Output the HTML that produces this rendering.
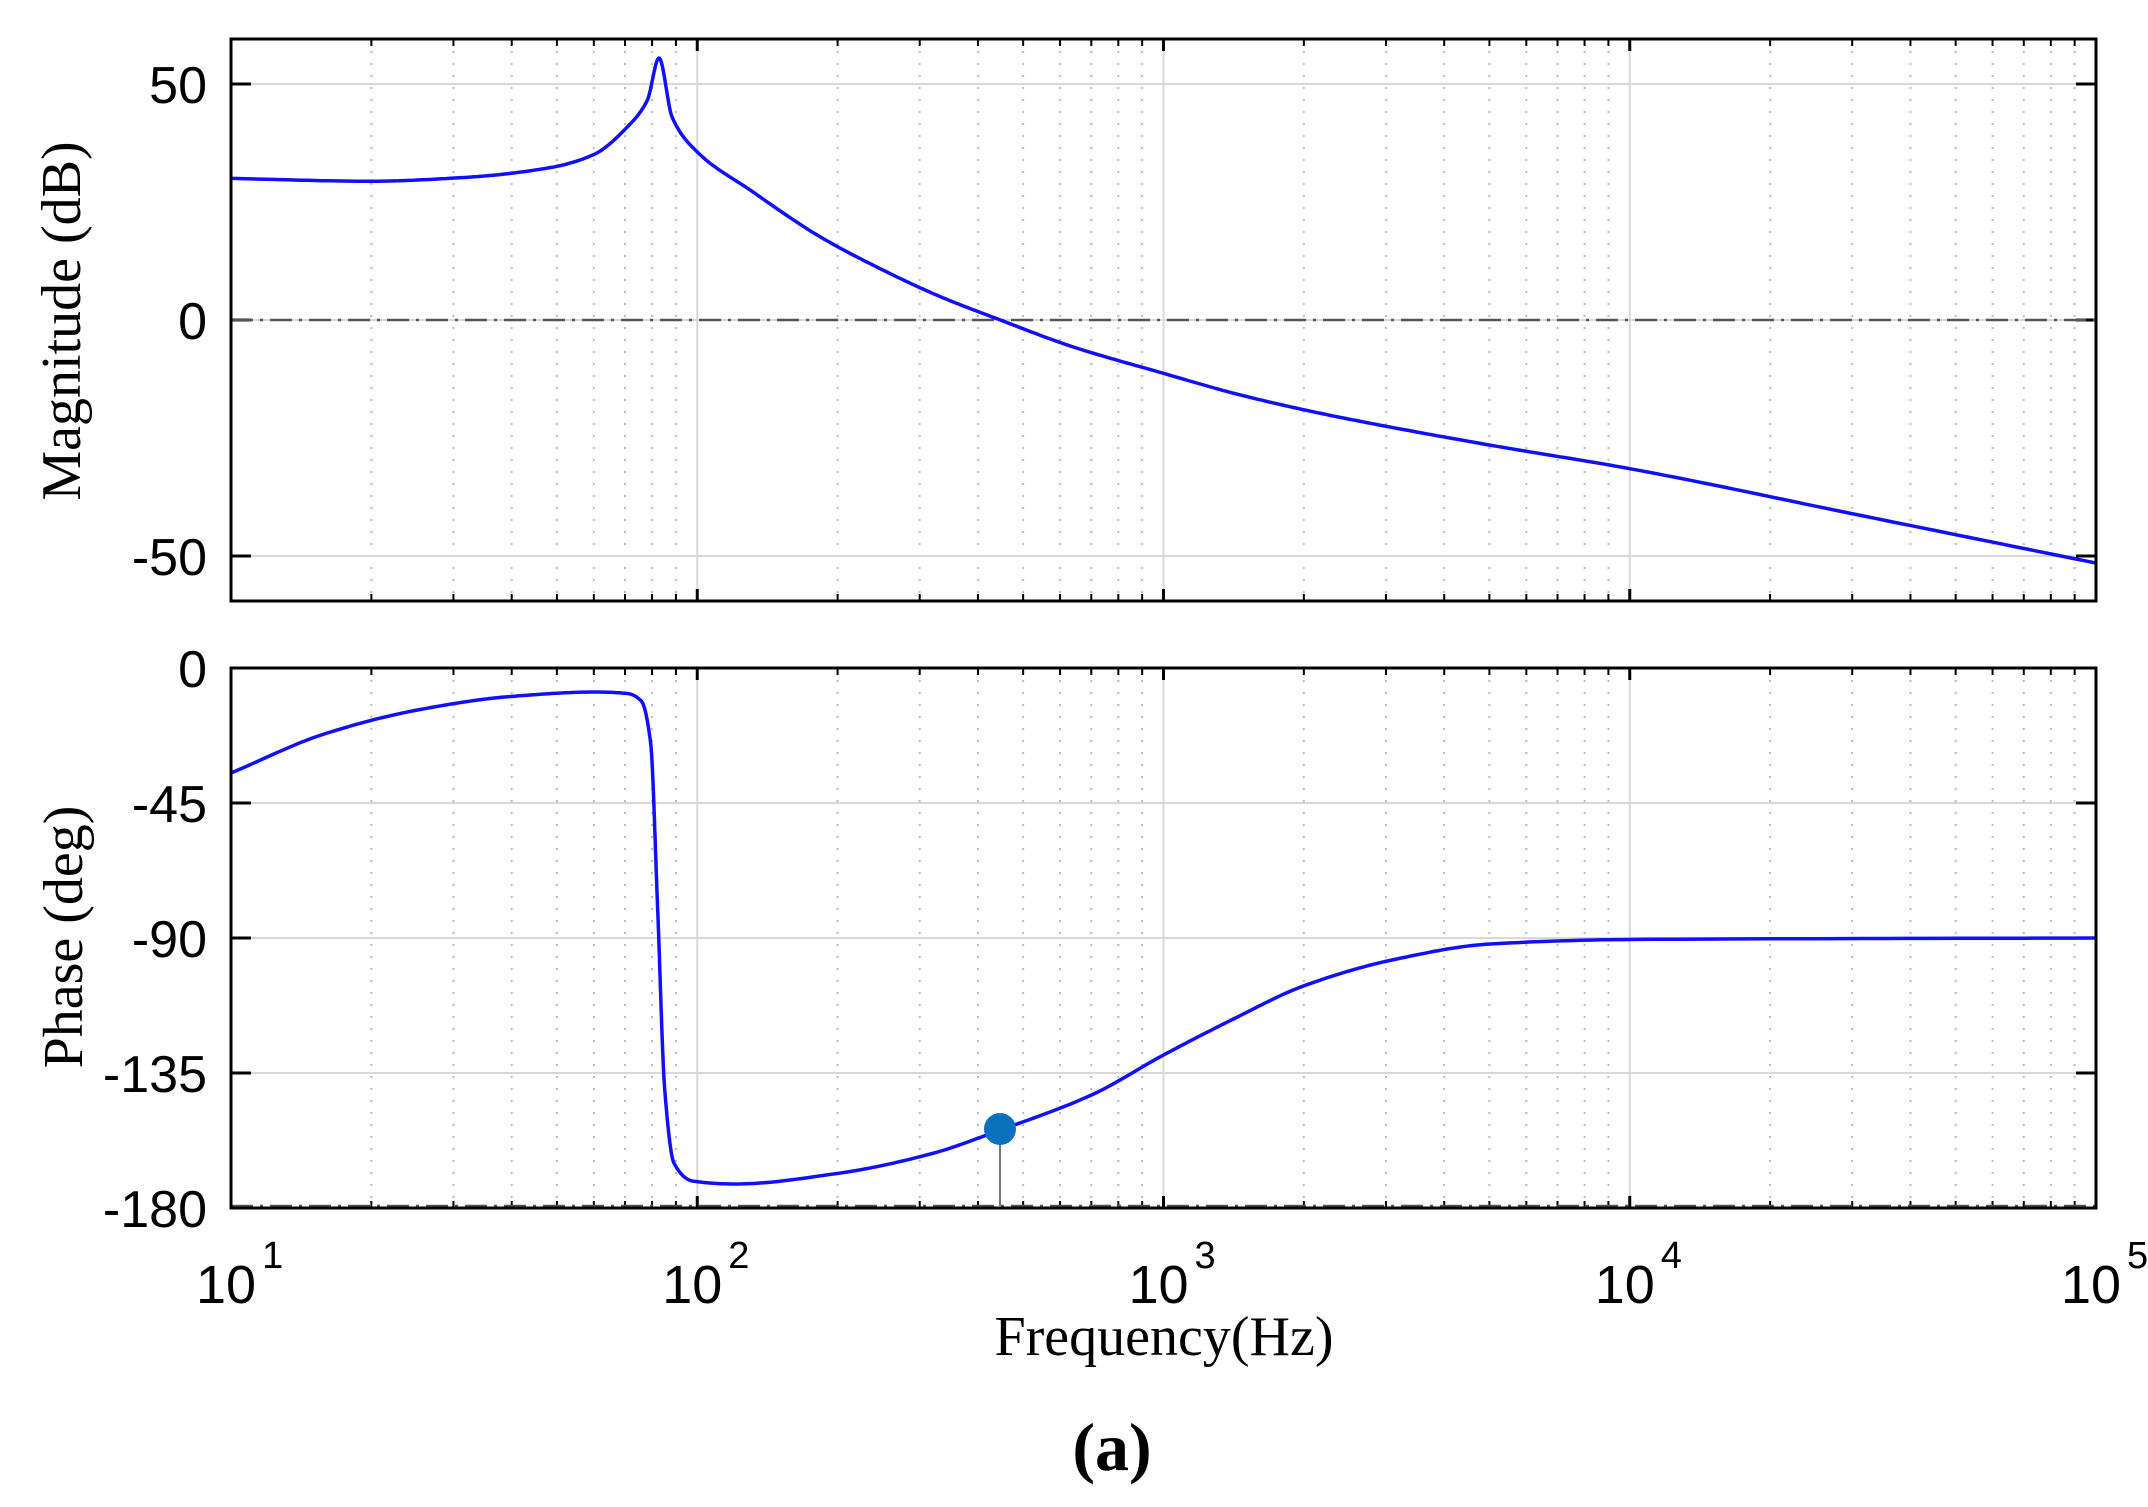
<!DOCTYPE html>
<html><head><meta charset="utf-8"><style>
html,body{margin:0;padding:0;background:#fff;}
svg{display:block;}
</style></head><body>
<svg id="s" width="2148" height="1507" xmlns="http://www.w3.org/2000/svg">
</svg>
<script>
const NS="http://www.w3.org/2000/svg";
const s=document.getElementById('s');
function el(t,a,txt){const e=document.createElementNS(NS,t);for(const k in a)e.setAttribute(k,a[k]);if(txt!==undefined)e.textContent=txt;s.appendChild(e);return e;}
const L=231,R=2096,D=(R-L)/4;
const X=lf=>L+(lf-1)*D;
const P1={t:39,b:601,y:v=>320-v*236/50};
const P2={t:668,b:1208,y:v=>668-v*3};
function grid(P,yt){
  for(let d=1;d<5;d++)for(let m=2;m<=9;m++){const x=X(d+Math.log10(m));
    el('line',{x1:x,y1:P.t,x2:x,y2:P.b,stroke:'#bbb','stroke-width':2,'stroke-dasharray':'2 10'});
    el('line',{x1:x,y1:P.t,x2:x,y2:P.t+7,stroke:'#000','stroke-width':2});
    el('line',{x1:x,y1:P.b,x2:x,y2:P.b-7,stroke:'#000','stroke-width':2});}
  for(let d=2;d<5;d++){const x=X(d);el('line',{x1:x,y1:P.t,x2:x,y2:P.b,stroke:'#d8d8d8','stroke-width':2});
    el('line',{x1:x,y1:P.t,x2:x,y2:P.t+12,stroke:'#000','stroke-width':3});
    el('line',{x1:x,y1:P.b,x2:x,y2:P.b-12,stroke:'#000','stroke-width':3});}
  for(const v of yt){const y=P.y(v);
    el('line',{x1:L,y1:y,x2:R,y2:y,stroke:'#d8d8d8','stroke-width':2});
    el('line',{x1:L,y1:y,x2:L+20,y2:y,stroke:'#000','stroke-width':3});
    el('line',{x1:R,y1:y,x2:R-20,y2:y,stroke:'#000','stroke-width':3});
    el('text',{x:207,y:y+19,'text-anchor':'end','font-family':'Liberation Sans, sans-serif','font-size':52},v);}
}
grid(P1,[50,0,-50]);
grid(P2,[0,-45,-90,-135,-180]);
el('line',{x1:L,y1:320,x2:R,y2:320,stroke:'#555','stroke-width':2.5,'stroke-dasharray':'22 7 3 7'});
el('line',{x1:L,y1:1206,x2:R,y2:1206,stroke:'#555','stroke-width':2.5,'stroke-dasharray':'22 7 3 7'});
function curve(pts,P){
  const n=pts.length,xs=pts.map(p=>p[0]),ys=pts.map(p=>p[1]);
  const dl=[],m=[];
  for(let i=0;i<n-1;i++)dl.push((ys[i+1]-ys[i])/(xs[i+1]-xs[i]));
  m[0]=dl[0];m[n-1]=dl[n-2];
  for(let i=1;i<n-1;i++){ if(dl[i-1]*dl[i]<=0)m[i]=0; else {const w1=2*(xs[i+1]-xs[i])+(xs[i]-xs[i-1]),w2=(xs[i+1]-xs[i])+2*(xs[i]-xs[i-1]);m[i]=(w1+w2)/(w1/dl[i-1]+w2/dl[i]);}}
  let d='';
  for(let i=0;i<n-1;i++){const h=xs[i+1]-xs[i];
    for(let k=0;k<20;k++){const t=k/20;
      const h00=2*t*t*t-3*t*t+1,h10=t*t*t-2*t*t+t,h01=-2*t*t*t+3*t*t,h11=t*t*t-t*t;
      const v=h00*ys[i]+h10*h*m[i]+h01*ys[i+1]+h11*h*m[i+1];
      d+=(d?'L':'M')+X(xs[i]+t*h).toFixed(1)+' '+P.y(v).toFixed(1);}}
  d+='L'+X(xs[n-1])+' '+P.y(ys[n-1]);
  el('path',{d:d,fill:'none',stroke:'#1010ff','stroke-width':3.5,'stroke-linejoin':'round'});
}
curve([[1,30],[1.3,29.4],[1.5,30.2],[1.685,32.3],[1.777,35],[1.85,40.9],[1.893,46.6],[1.918,55.5],[1.946,43],[2,35.6],[2.114,27.5],[2.264,17.6],[2.4,10.5],[2.52,5],[2.65,0],[2.8,-5.5],[3,-11.3],[3.15,-15.5],[3.3,-19],[3.45,-22],[3.7,-26.5],[4,-31.5],[4.5,-41.5],[5,-51.5]],P1);
curve([[1,-35],[1.2,-22],[1.4,-14],[1.6,-9.5],[1.78,-8],[1.85,-8.5],[1.88,-11],[1.9,-25],[1.915,-80],[1.93,-140],[1.95,-165],[1.99,-171],[2.08,-172],[2.3,-168.5],[2.5,-162],[2.65,-154],[2.85,-142],[3,-129],[3.15,-117],[3.3,-106],[3.5,-97],[3.7,-92],[4,-90.5],[5,-90]],P2);
el('line',{x1:1000,y1:1129,x2:1000,y2:1206,stroke:'#777','stroke-width':2});
el('circle',{cx:1000,cy:1129,r:16,fill:'#0a72bd'});
el('rect',{x:L,y:P1.t,width:R-L,height:P1.b-P1.t,fill:'none',stroke:'#000','stroke-width':3});
el('rect',{x:L,y:P2.t,width:R-L,height:P2.b-P2.t,fill:'none',stroke:'#000','stroke-width':3});
for(let d=1;d<=5;d++){el('text',{x:X(d)-5,y:1303,'text-anchor':'middle','font-family':'Liberation Sans, sans-serif','font-size':54},'10');
  el('text',{x:X(d)+31,y:1268,'font-family':'Liberation Sans, sans-serif','font-size':38},String(d));}
el('text',{x:1164,y:1355,'text-anchor':'middle','font-family':'Liberation Serif, serif','font-size':56},'Frequency(Hz)');
el('text',{x:1112,y:1470,'text-anchor':'middle','font-family':'Liberation Serif, serif','font-size':68,'font-weight':'bold'},'(a)');
el('text',{x:0,y:0,transform:'translate(80,321) rotate(-90)','text-anchor':'middle','font-family':'Liberation Serif, serif','font-size':56},'Magnitude (dB)');
el('text',{x:0,y:0,transform:'translate(82,937) rotate(-90)','text-anchor':'middle','font-family':'Liberation Serif, serif','font-size':56},'Phase (deg)');
</script>
</body></html>
